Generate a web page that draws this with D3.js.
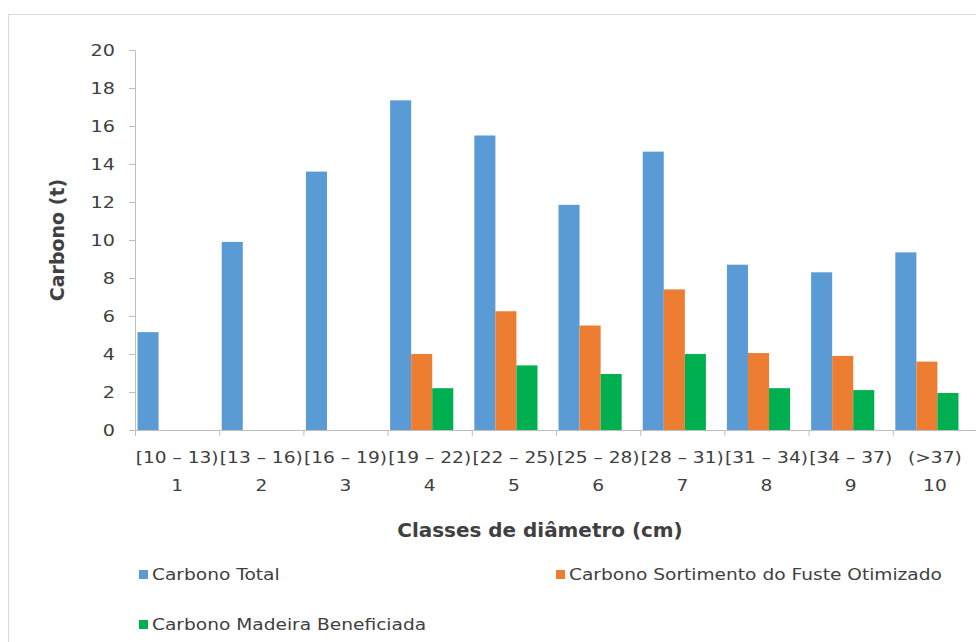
<!DOCTYPE html>
<html><head><meta charset="utf-8">
<script src="https://cdn.jsdelivr.net/npm/d3@7"></script>
<style>body{margin:0;background:#fff}svg{display:block}text{font-family:"DejaVu Sans",sans-serif;fill:#404040}</style>
</head><body>
<script>
const categories = ["1","2","3","4","5","6","7","8","9","10"];
const classLabels = ["[10 – 13)","[13 – 16)","[16 – 19)","[19 – 22)","[22 – 25)","[25 – 28)","[28 – 31)","[31 – 34)","[34 – 37)","(>37)"];
const seriesNames = ["Carbono Total","Carbono Sortimento do Fuste Otimizado","Carbono Madeira Beneficiada"];
const carbonoTotal = [5.15, 9.9, 13.6, 17.35, 15.5, 11.85, 14.65, 8.7, 8.3, 9.35];
const carbonoSortimento = [null, null, null, 4.0, 6.25, 5.5, 7.4, 4.05, 3.9, 3.6];
const carbonoMadeira = [null, null, null, 2.2, 3.4, 2.95, 4.0, 2.2, 2.1, 1.95];
const yTicks = [0,2,4,6,8,10,12,14,16,18,20];
const colors = ["#5B9BD5","#ED7D31","#00B050"];

const W = 976, H = 642, SX = 1.2;
const svg = d3.select("body").append("svg").attr("width", W).attr("height", H);
svg.append("rect").attr("x",8.5).attr("y",14.5).attr("width",W).attr("height",H).attr("fill","#fff").attr("stroke","#d9d9d9");

function stext(g, tx, ty, str, size, anchor, sx, weight) {
  return g.append("text").attr("transform", `translate(${tx},${ty}) scale(${sx},1)`)
    .attr("text-anchor", anchor).attr("font-size", size).attr("font-weight", weight || "normal").text(str);
}

const pL = 135, pR = 977, pT = 50, pB = 430;
const x = d3.scaleBand().domain(categories).range([pL, pR]).padding(0);
const bw = x.bandwidth();
const x1 = d3.scaleBand().domain([0,1,2]).range([bw*0.03, bw*0.03 + bw*0.75]).padding(0);
const y = d3.scaleLinear().domain([0,20]).range([pB, pT]);

const series = [carbonoTotal, carbonoSortimento, carbonoMadeira];
series.forEach((vals, si) => {
  svg.append("g").selectAll("rect").data(vals.map((v,i)=>({v, c: categories[i]})).filter(d=>d.v!=null))
    .join("rect")
    .attr("x", d => x(d.c) + x1(si))
    .attr("width", x1.bandwidth())
    .attr("y", d => y(d.v))
    .attr("height", d => y(0) - y(d.v))
    .attr("fill", colors[si]);
});

// y axis
const ya = svg.append("g").attr("transform", `translate(${pL},0)`)
  .call(d3.axisLeft(y).tickValues(yTicks).tickSize(6).tickPadding(4));
ya.select(".domain").attr("stroke","#bfbfbf");
ya.selectAll(".tick line").attr("stroke","#bfbfbf");
ya.selectAll(".tick text").attr("font-size",16).attr("fill","#404040").style("font-family","DejaVu Sans")
  .attr("x", -20/SX).attr("transform", `scale(${SX},1)`);

// x axis
const xa = svg.append("g").attr("transform", `translate(0,${pB})`)
  .call(d3.axisBottom(x).tickSize(0).tickFormat(""));
xa.select(".domain").attr("stroke","#bfbfbf");
svg.append("g").selectAll("line").data(categories).join("line")
  .attr("x1", d=>x(d)+0.5).attr("x2", d=>x(d)+0.5).attr("y1", pB).attr("y2", pB+6)
  .attr("stroke","#bfbfbf");
const lab = svg.append("g");
categories.forEach((c,i)=>{
  const cx = x(c) + bw/2;
  stext(lab, cx, 463, classLabels[i], 15.5, "middle", SX);
  stext(lab, cx, 491, c, 15.5, "middle", SX);
});

stext(svg, 540, 537, "Classes de diâmetro (cm)", 19, "middle", 1.05, "bold");
svg.append("text").attr("transform","translate(64,240) rotate(-90)").attr("text-anchor","middle").attr("font-size",19).attr("font-weight","bold").text("Carbono (t)");

const legPos = [[139,580],[556,580],[139,630]];
seriesNames.forEach((n,i)=>{
  const [lx,ly] = legPos[i];
  svg.append("rect").attr("x",lx).attr("y",ly-10).attr("width",9).attr("height",9).attr("fill",colors[i]);
  stext(svg, lx+13, ly, n, 15.5, "start", SX);
});
</script>
</body></html>
